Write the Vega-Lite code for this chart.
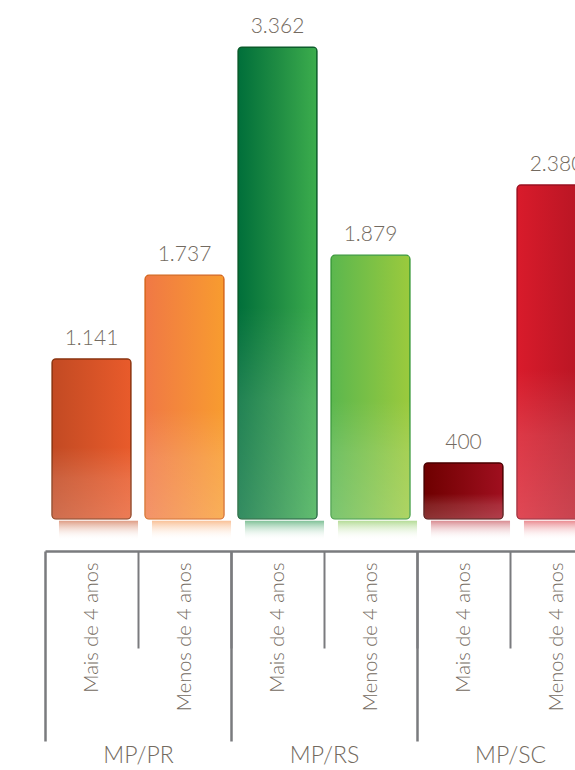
{
  "$schema": "https://vega.github.io/schema/vega-lite/v6.json",
  "width": 558,
  "height": 519,
  "autosize": {"type": "none"},
  "padding": {"left": 45, "top": 0, "right": 0, "bottom": 251},
  "background": "white",
  "config": {
    "view": {"stroke": null},
    "font": "Lato",
    "locale": {"number": {"decimal": ",", "thousands": ".", "grouping": [3], "currency": ["R$", ""]}}
  },
  "data": {
    "values": [
      {"group": "MP/PR", "bar": "MP/PR|Mais de 4 anos", "value": 1141},
      {"group": "MP/PR", "bar": "MP/PR|Menos de 4 anos", "value": 1737},
      {"group": "MP/RS", "bar": "MP/RS|Mais de 4 anos", "value": 3362},
      {"group": "MP/RS", "bar": "MP/RS|Menos de 4 anos", "value": 1879},
      {"group": "MP/SC", "bar": "MP/SC|Mais de 4 anos", "value": 400},
      {"group": "MP/SC", "bar": "MP/SC|Menos de 4 anos", "value": 2380}
    ]
  },
  "layer": [
    {
      "encoding": {
        "x": {
          "field": "bar", "type": "nominal", "sort": null,
          "scale": {"paddingInner": 0.15, "paddingOuter": 0.075},
          "axis": {
            "orient": "bottom", "offset": 32, "title": null, "domain": false,
            "bandPosition": 1, "tickExtra": false, "tickOffset": 7, "labelOffset": -7,
            "tickSize": 97, "tickWidth": 2, "tickColor": "#7a7b7e",
            "labelAngle": 270, "labelAlign": "right", "labelBaseline": "middle",
            "labelPadding": -86, "labelFontSize": 20, "labelColor": "#736a60",
            "labelFont": "Lato", "labelFontWeight": 300,
            "labelExpr": "split(datum.value, '|')[1]"
          }
        }
      },
      "layer": [
        {
          "transform": [{"filter": "datum.bar === 'MP/PR|Mais de 4 anos'"}],
          "layer": [
            {"mark": {"type": "bar", "cornerRadius": 4, "stroke": "#8a3510", "strokeWidth": 1.2,
              "fill": {"gradient": "linear", "x1": 0, "y1": 0, "x2": 1, "y2": 0, "stops": [{"offset": 0, "color": "#c24a23"}, {"offset": 1, "color": "#e95b2b"}]}},
             "encoding": {"y": {"field": "value", "type": "quantitative", "scale": {"domain": [0, 3697], "nice": false}, "axis": null}}},
            {"mark": {"type": "bar", "xOffset": 7,
              "fill": {"gradient": "linear", "x1": 0, "y1": 0, "x2": 0, "y2": 1, "stops": [{"offset": 0, "color": "rgba(200,90,50,0.6)"}, {"offset": 1, "color": "rgba(255,255,255,0)"}]}},
             "encoding": {"y": {"datum": -12}, "y2": {"datum": -150}}}
          ]
        },
        {
          "transform": [{"filter": "datum.bar === 'MP/PR|Menos de 4 anos'"}],
          "layer": [
            {"mark": {"type": "bar", "cornerRadius": 4, "stroke": "#d5661c", "strokeWidth": 1.2,
              "fill": {"gradient": "linear", "x1": 0, "y1": 0, "x2": 1, "y2": 0, "stops": [{"offset": 0, "color": "#f07845"}, {"offset": 1, "color": "#f89c2f"}]}},
             "encoding": {"y": {"field": "value", "type": "quantitative"}}},
            {"mark": {"type": "bar", "xOffset": 7,
              "fill": {"gradient": "linear", "x1": 0, "y1": 0, "x2": 0, "y2": 1, "stops": [{"offset": 0, "color": "rgba(245,150,80,0.6)"}, {"offset": 1, "color": "rgba(255,255,255,0)"}]}},
             "encoding": {"y": {"datum": -12}, "y2": {"datum": -150}}}
          ]
        },
        {
          "transform": [{"filter": "datum.bar === 'MP/RS|Mais de 4 anos'"}],
          "layer": [
            {"mark": {"type": "bar", "cornerRadius": 4, "stroke": "#0b5a2a", "strokeWidth": 1.2,
              "fill": {"gradient": "linear", "x1": 0, "y1": 0, "x2": 1, "y2": 0, "stops": [{"offset": 0, "color": "#006f3a"}, {"offset": 0.5, "color": "#1f8c43"}, {"offset": 1, "color": "#3cad4d"}]}},
             "encoding": {"y": {"field": "value", "type": "quantitative"}}},
            {"mark": {"type": "bar", "xOffset": 7,
              "fill": {"gradient": "linear", "x1": 0, "y1": 0, "x2": 0, "y2": 1, "stops": [{"offset": 0, "color": "rgba(40,150,80,0.6)"}, {"offset": 1, "color": "rgba(255,255,255,0)"}]}},
             "encoding": {"y": {"datum": -12}, "y2": {"datum": -150}}}
          ]
        },
        {
          "transform": [{"filter": "datum.bar === 'MP/RS|Menos de 4 anos'"}],
          "layer": [
            {"mark": {"type": "bar", "cornerRadius": 4, "stroke": "#3c9a3a", "strokeWidth": 1.2,
              "fill": {"gradient": "linear", "x1": 0, "y1": 0, "x2": 1, "y2": 0, "stops": [{"offset": 0, "color": "#5bb74e"}, {"offset": 1, "color": "#9bca3d"}]}},
             "encoding": {"y": {"field": "value", "type": "quantitative"}}},
            {"mark": {"type": "bar", "xOffset": 7,
              "fill": {"gradient": "linear", "x1": 0, "y1": 0, "x2": 0, "y2": 1, "stops": [{"offset": 0, "color": "rgba(130,195,80,0.6)"}, {"offset": 1, "color": "rgba(255,255,255,0)"}]}},
             "encoding": {"y": {"datum": -12}, "y2": {"datum": -150}}}
          ]
        },
        {
          "transform": [{"filter": "datum.bar === 'MP/SC|Mais de 4 anos'"}],
          "layer": [
            {"mark": {"type": "bar", "cornerRadius": 4, "stroke": "#4a0000", "strokeWidth": 1.2,
              "fill": {"gradient": "linear", "x1": 0, "y1": 0, "x2": 1, "y2": 0, "stops": [{"offset": 0, "color": "#6e0000"}, {"offset": 1, "color": "#a00f1f"}]}},
             "encoding": {"y": {"field": "value", "type": "quantitative"}}},
            {"mark": {"type": "bar", "xOffset": 7,
              "fill": {"gradient": "linear", "x1": 0, "y1": 0, "x2": 0, "y2": 1, "stops": [{"offset": 0, "color": "rgba(190,60,70,0.6)"}, {"offset": 1, "color": "rgba(255,255,255,0)"}]}},
             "encoding": {"y": {"datum": -12}, "y2": {"datum": -150}}}
          ]
        },
        {
          "transform": [{"filter": "datum.bar === 'MP/SC|Menos de 4 anos'"}],
          "layer": [
            {"mark": {"type": "bar", "cornerRadius": 4, "stroke": "#9a1020", "strokeWidth": 1.2,
              "fill": {"gradient": "linear", "x1": 0, "y1": 0, "x2": 1, "y2": 0, "stops": [{"offset": 0, "color": "#d91b2b"}, {"offset": 1, "color": "#b01422"}]}},
             "encoding": {"y": {"field": "value", "type": "quantitative"}}},
            {"mark": {"type": "bar", "xOffset": 7,
              "fill": {"gradient": "linear", "x1": 0, "y1": 0, "x2": 0, "y2": 1, "stops": [{"offset": 0, "color": "rgba(220,60,70,0.6)"}, {"offset": 1, "color": "rgba(255,255,255,0)"}]}},
             "encoding": {"y": {"datum": -12}, "y2": {"datum": -150}}}
          ]
        },
        {
          "mark": {"type": "bar", "cornerRadius": 4,
            "fill": {"gradient": "linear", "x1": 0, "y1": 0, "x2": 0, "y2": 1, "stops": [{"offset": 0, "color": "rgba(255,255,255,0)"}, {"offset": 0.55, "color": "rgba(255,255,255,0)"}, {"offset": 0.75, "color": "rgba(255,255,255,0.13)"}, {"offset": 1, "color": "rgba(255,255,255,0.2)"}]}},
          "encoding": {"y": {"field": "value", "type": "quantitative"}}
        },
        {
          "mark": {"type": "text", "baseline": "alphabetic", "dy": -14, "fontSize": 21, "font": "Lato", "fontWeight": 300, "color": "#736a60"},
          "encoding": {
            "y": {"field": "value", "type": "quantitative"},
            "text": {"field": "value", "type": "quantitative", "format": ",d"}
          }
        }
      ]
    },
    {
      "mark": {"type": "rule", "opacity": 0},
      "encoding": {
        "x": {
          "field": "group", "type": "nominal", "sort": null,
          "scale": {"paddingInner": 0, "paddingOuter": 0},
          "axis": {
            "orient": "bottom", "offset": 32, "title": null,
            "domain": true, "domainColor": "#7a7b7e", "domainWidth": 2.5,
            "tickBand": "extent", "tickSize": 190, "tickWidth": 2.5, "tickColor": "#7a7b7e",
            "labelAngle": 0, "labelPadding": 3, "labelFontSize": 23, "labelColor": "#736a60",
            "labelFont": "Lato", "labelFontWeight": 300
          }
        }
      }
    }
  ],
  "resolve": {"scale": {"x": "independent"}, "axis": {"x": "independent"}}
}
